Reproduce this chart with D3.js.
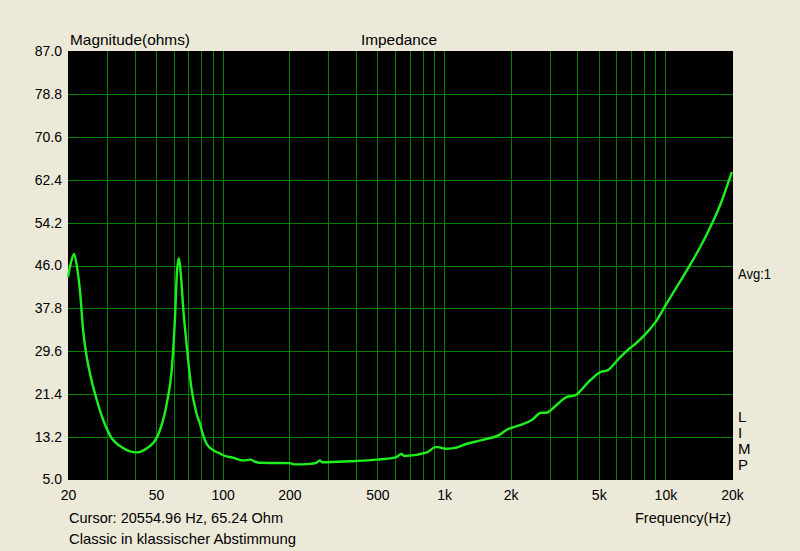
<!DOCTYPE html>
<html>
<head>
<meta charset="utf-8">
<script src="https://cdn.jsdelivr.net/npm/d3@7"></script>
<style>
  html, body { margin: 0; padding: 0; background: #ECE9D8; }
  svg { display: block; }
  text { font-family: "Liberation Sans", Arial, sans-serif; font-size: 14px; fill: #000; }
</style>
</head>
<body>
<svg id="chart" width="800" height="551"></svg>
<script>
// ---- Data ----
const freqHz = [20, 20.6, 21.3, 22.0, 22.7, 23.4, 24.3, 25.1, 27.0, 28.9, 31.0, 35.6, 40.8, 45.4, 50.5,
  55.9, 58.8, 60.8, 62.2, 63.4, 64.6, 66.4, 68.6, 72.1, 76.1, 79, 81.7, 84.7, 90.7, 97, 101, 111, 124, 133, 140,
  147, 201, 212, 247, 265, 274, 282, 376, 497, 608, 643, 660, 838, 913, 940, 1009, 1102, 1259, 1496, 1787,
  1913, 2200, 2513, 2743, 2900, 3171, 3577, 3905, 4497, 5094, 5470, 6175, 6750, 7370, 8185, 9100, 9970,
  11260, 12930, 14350, 15930, 17680, 19960];
const impedanceOhm = [43.8, 46.5, 48.2, 45.5, 40.7, 33.6, 28.5, 25.4, 20.2, 16.3, 13.4, 11.0, 10.2, 11.0, 13.1,
  19.6, 25.9, 35.5, 45.1, 47.4, 44.6, 37.5, 31.1, 22.7, 17.7, 15.6, 13.4, 11.8, 10.6, 10.0, 9.6, 9.2, 8.65, 8.8, 8.4,
  8.2, 8.13, 7.9, 8.0, 8.2, 8.65, 8.3, 8.5, 8.8, 9.3, 9.9, 9.5, 10.2, 11.2, 11.2, 10.9, 11.0, 11.8, 12.6, 13.6,
  14.5, 15.4, 16.5, 17.8, 17.8, 19.0, 20.8, 21.1, 23.7, 25.6, 25.9, 28.2, 29.8, 31.1, 33.0, 35.4, 38.2,
  41.9, 46.1, 49.5, 53.3, 57.6, 63.9];
const yTicks = [5.0, 13.2, 21.4, 29.6, 37.8, 46.0, 54.2, 62.4, 70.6, 78.8, 87.0];
const xTickValues = [20, 50, 100, 200, 500, 1000, 2000, 5000, 10000, 20000];
const xTickLabels = ["20", "50", "100", "200", "500", "1k", "2k", "5k", "10k", "20k"];
const xGridValues = [];
[10, 100, 1000, 10000].forEach(d => { for (let m = 1; m <= 9; m++) { const v = d * m; if (v > 20 && v < 20000) xGridValues.push(v); } });
const sideLetters = ["L", "I", "M", "P"];

// ---- Layout ----
const svg = d3.select("#chart");
const pL = 68, pR = 732, pT = 51.5, pB = 479.5;
const x = d3.scaleLog().domain([20, 20000]).range([pL, pR]);
const y = d3.scaleLinear().domain([5, 87]).range([pB, pT]);

svg.append("rect").attr("width", 800).attr("height", 551).attr("fill", "#ECE9D8");
svg.append("rect").attr("x", pL).attr("y", 51).attr("width", pR - pL + 1).attr("height", 429).attr("fill", "#000");

// grid
svg.append("g").selectAll("line").data(xGridValues).join("line")
  .attr("x1", d => Math.round(x(d)) + 0.5).attr("x2", d => Math.round(x(d)) + 0.5)
  .attr("y1", 51).attr("y2", 480)
  .attr("stroke", "#008000").attr("stroke-width", 1);
svg.append("g").selectAll("line").data(yTicks.slice(1, -1)).join("line")
  .attr("x1", pL).attr("x2", pR + 1)
  .attr("y1", d => Math.round(y(d)) + 0.5).attr("y2", d => Math.round(y(d)) + 0.5)
  .attr("stroke", "#008000").attr("stroke-width", 1);

// axes (labels only, via d3 axes)
const yAxis = d3.axisLeft(y).tickValues(yTicks).tickFormat(d3.format(".1f")).tickSize(0).tickPadding(6);
const gy = svg.append("g").attr("transform", `translate(${pL},0)`).call(yAxis);
gy.select(".domain").remove();
gy.selectAll("text").attr("font-size", 14).attr("font-family", '"Liberation Sans", Arial, sans-serif').attr("fill", "#000");

const xAxis = d3.axisBottom(x).tickValues(xTickValues).tickFormat((d, i) => xTickLabels[i]).tickSize(0).tickPadding(10);
const gx = svg.append("g").attr("transform", `translate(0,${480})`).call(xAxis);
gx.select(".domain").remove();
gx.selectAll("text").attr("font-size", 14).attr("font-family", '"Liberation Sans", Arial, sans-serif').attr("fill", "#000");

// curve
const line = d3.line().x((d, i) => x(freqHz[i])).y(d => y(d)).curve(d3.curveMonotoneX);
svg.append("path").datum(impedanceOhm).attr("d", line)
  .attr("fill", "none").attr("stroke", "#1EF01E").attr("stroke-width", 2.4).attr("stroke-linejoin", "round");

// texts
function label(t, xx, yy, len, anchor) {
  const el = svg.append("text").attr("x", xx).attr("y", yy).style("font-size", "15px").text(t);
  if (len) el.attr("textLength", len).attr("lengthAdjust", "spacingAndGlyphs");
  if (anchor) el.attr("text-anchor", anchor);
  return el;
}
label("Magnitude(ohms)", 70, 45, 120);
label("Impedance", 361, 45, 76);
label("Cursor: 20554.96 Hz, 65.24 Ohm", 69, 523, 214);
label("Classic in klassischer Abstimmung", 69, 544, 227);
label("Frequency(Hz)", 635, 523, 96);
label("Avg:1", 738, 279, 33);
svg.append("g").selectAll("text").data(sideLetters).join("text")
  .style("font-size", "15px")
  .attr("x", 738).attr("y", (d, i) => 422 + i * 16).text(d => d);
</script>
</body>
</html>
